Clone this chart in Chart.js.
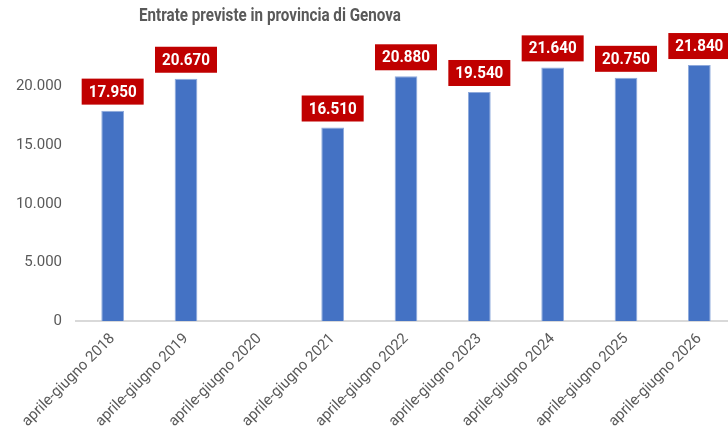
<!DOCTYPE html>
<html>
<head>
<meta charset="utf-8">
<script src="https://cdn.jsdelivr.net/npm/chart.js@4/dist/chart.umd.min.js"></script>
<style>
  html, body { margin: 0; padding: 0; background: #fff; overflow: hidden; }
  #wrap { width: 728px; height: 427px; overflow: hidden; }
</style>
</head>
<body>
<div id="wrap"><canvas id="myChart" width="740" height="427"></canvas></div>
<script>
var categories = ['aprile-giugno 2018', 'aprile-giugno 2019', 'aprile-giugno 2020', 'aprile-giugno 2021',
    'aprile-giugno 2022', 'aprile-giugno 2023', 'aprile-giugno 2024', 'aprile-giugno 2025', 'aprile-giugno 2026'];
var entrate = [17950, 20670, null, 16510, 20880, 19540, 21640, 20750, 21840];
var yTicks = [0, 5000, 10000, 15000, 20000];
var titleText = 'Entrate previste in provincia di Genova';

var FONT = 'Roboto, "Liberation Sans", sans-serif';

// 17950 -> "17.950"
function fmt(v) {
    return String(v).replace(/\B(?=(\d{3})+(?!\d))/g, '.');
}

// red boxes with the values, plus the title
var labelBoxes = {
    id: 'labelBoxes',
    afterDatasetsDraw: function (chart) {
        var c = chart.ctx;
        var meta = chart.getDatasetMeta(0);
        c.save();
        c.font = 'bold 16px ' + FONT;
        c.textAlign = 'center';
        c.textBaseline = 'middle';
        meta.data.forEach(function (bar, i) {
            var v = entrate[i];
            if (v === null) return;
            var txt = fmt(v);
            var w = 62;
            var h = 26;
            var bottom = bar.y - 6;
            c.fillStyle = '#C00000';
            c.fillRect(bar.x - w / 2, bottom - h, w, h);
            c.fillStyle = '#ffffff';
            c.fillText(txt, bar.x, bottom - h / 2 + 1, 48);
        });
        c.restore();
    },
    afterDraw: function (chart) {
        var c = chart.ctx;
        c.save();
        c.font = 'bold 19px ' + FONT;
        c.fillStyle = '#595959';
        c.textAlign = 'center';
        c.textBaseline = 'middle';
        c.fillText(titleText, 270, 16, 262);
        c.restore();
    }
};

var ctx = document.getElementById('myChart');

var chart = new Chart(ctx, {
    type: 'bar',
    data: {
        labels: categories,
        datasets: [{
            data: entrate,
            backgroundColor: '#4472C4',
            borderColor: '#8faadc',
            borderWidth: { left: 1, right: 1, top: 1, bottom: 0 },
            categoryPercentage: 1,
            barPercentage: 0.31
        }]
    },
    options: {
        responsive: false,
        animation: false,
        layout: { padding: { top: 28, right: 4, left: 0, bottom: 0 } },
        plugins: {
            legend: { display: false },
            title: { display: false },
            tooltip: { enabled: false }
        },
        scales: {
            x: {
                grid: { display: false, drawTicks: false },
                border: { color: '#d9d9d9', width: 2 },
                ticks: {
                    color: '#595959',
                    font: { family: FONT, size: 15 },
                    maxRotation: 45,
                    minRotation: 45,
                    padding: 9
                },
                afterFit: function (axis) { axis.height = 106; }
            },
            y: {
                min: 0,
                max: 25000,
                grid: { display: false, drawTicks: false },
                border: { display: false },
                afterBuildTicks: function (axis) {
                    axis.ticks = yTicks.map(function (v) { return { value: v }; });
                },
                ticks: {
                    color: '#595959',
                    font: { family: FONT, size: 15 },
                    padding: 14,
                    callback: function (v) { return fmt(v); }
                },
                afterFit: function (axis) { axis.width = 76; }
            }
        }
    },
    plugins: [labelBoxes]
});
</script>
</body>
</html>
